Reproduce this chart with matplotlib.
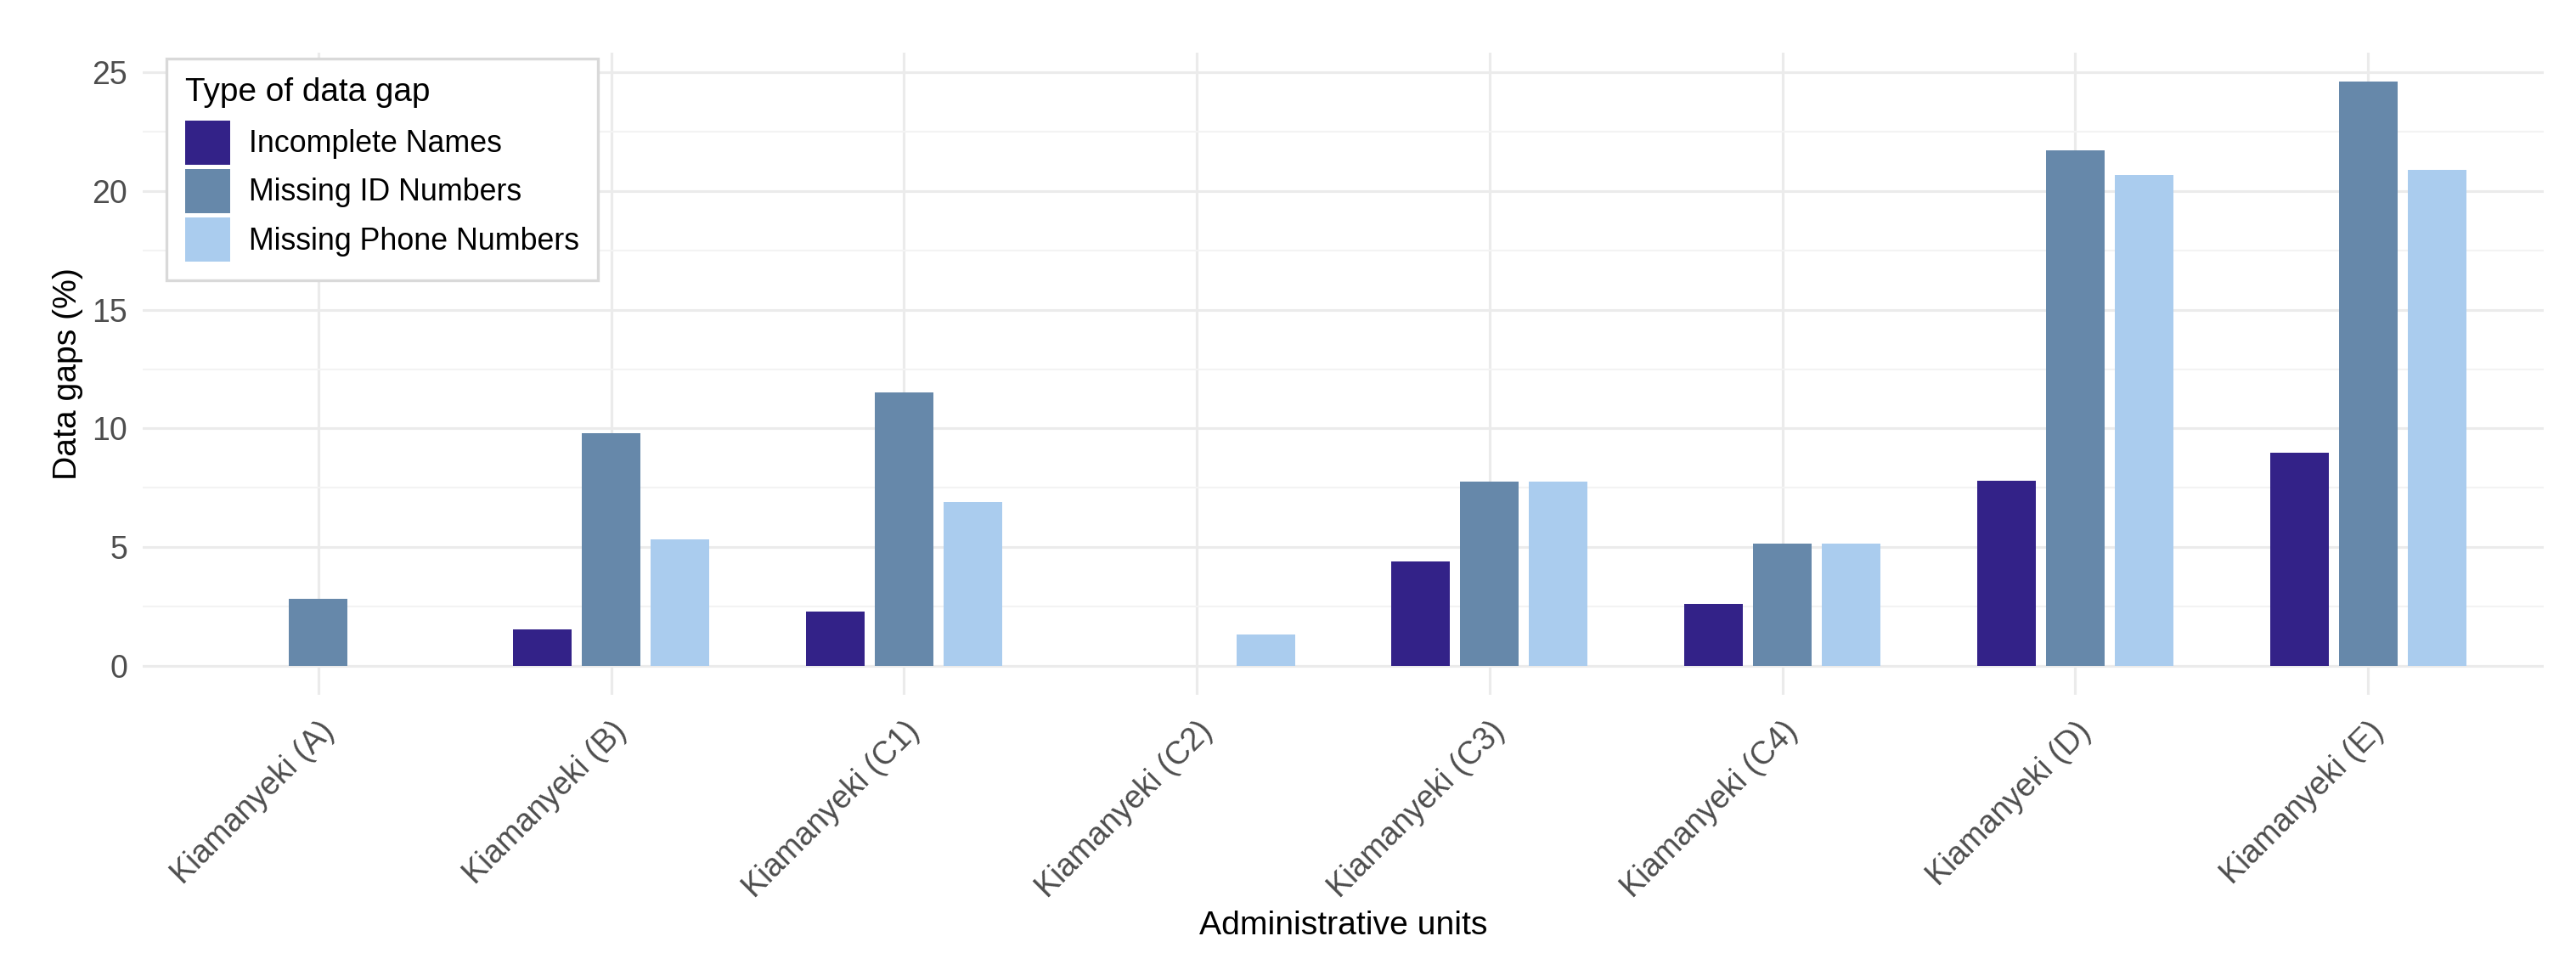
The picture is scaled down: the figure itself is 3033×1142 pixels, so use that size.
# Brechas de datos por unidad administrativa (barras agrupadas)
import numpy as np
import matplotlib
matplotlib.use("Agg")
import matplotlib.pyplot as plt
import matplotlib.transforms as mtransforms

# ----------- Datos -------------
UNIDADES = ["Kiamanyeki (A)", "Kiamanyeki (B)", "Kiamanyeki (C1)", "Kiamanyeki (C2)",
            "Kiamanyeki (C3)", "Kiamanyeki (C4)", "Kiamanyeki (D)", "Kiamanyeki (E)"]
NOMBRES_INCOMPLETOS = [0.0, 1.54, 2.29, 0.0, 4.40, 2.60, 7.80, 8.96]
SIN_ID = [2.82, 9.81, 11.51, 0.0, 7.74, 5.16, 21.72, 24.61]
SIN_TELEFONO = [0.0, 5.32, 6.89, 1.31, 7.74, 5.16, 20.69, 20.89]
SERIES = ["Incomplete Names", "Missing ID Numbers", "Missing Phone Numbers"]

# ----------- Colores -------------
COLORES = ["#332288", "#6688AA", "#AACCEE"]
COLOR_GRID = "#EBEBEB"
COLOR_GRID_MENOR = "#F3F3F3"
COLOR_TEXTO_EJE = "#4D4D4D"

plt.rcParams["font.family"] = ["Liberation Sans", "DejaVu Sans"]

fig = plt.figure(figsize=(3033 / 300, 1142 / 300), dpi=300, facecolor="white")
ax = fig.add_axes([168 / 3033, 1 - 818 / 1142, (2995 - 168) / 3033, (818 - 62) / 1142])

x = np.arange(len(UNIDADES))
ancho = 0.2
paso = 0.235
valores = [NOMBRES_INCOMPLETOS, SIN_ID, SIN_TELEFONO]
for i, (serie, vals) in enumerate(zip(SERIES, valores)):
    ax.bar(x + (i - 1) * paso, vals, width=ancho, color=COLORES[i], label=serie,
           linewidth=0, zorder=3)

# limites estilo ggplot (expansion 5% en y, 0.6 en x discreto)
ymax = max(max(v) for v in valores)
ax.set_ylim(-0.05 * ymax, ymax * 1.05)
ax.set_xlim(-0.6, len(UNIDADES) - 1 + 0.6)

ax.set_yticks(np.arange(0, 26, 5))
ax.set_yticks(np.arange(2.5, 25, 5), minor=True)
ax.set_xticks(x)
ax.set_xticklabels(UNIDADES, rotation=45, ha="right", va="top", rotation_mode="anchor",
                   fontsize=9, color=COLOR_TEXTO_EJE)
desplaza = mtransforms.ScaledTranslation(19 / 300, 0, fig.dpi_scale_trans)
for lab in ax.get_xticklabels():
    lab.set_transform(lab.get_transform() + desplaza)

ax.tick_params(axis="x", length=0, pad=6)
ax.tick_params(axis="y", which="both", length=0, pad=4.3, labelsize=9, labelcolor=COLOR_TEXTO_EJE)

ax.grid(True, which="major", color=COLOR_GRID, linewidth=0.75, zorder=0)
ax.grid(True, which="minor", axis="y", color=COLOR_GRID_MENOR, linewidth=0.5, zorder=0)
ax.set_axisbelow(True)
for s in ax.spines.values():
    s.set_visible(False)

ax.set_xlabel("Administrative units", fontsize=9.4, color="black")
ax.xaxis.set_label_coords(0.5, -0.336)
ax.set_ylabel("Data gaps (%)", fontsize=9.4, color="black")
ax.yaxis.set_label_coords(-0.0248, 0.5)

leg = ax.legend(title="Type of data gap", loc="upper left",
                bbox_to_anchor=((196 - 168) / 2827, (818 - 69) / 756),
                borderaxespad=0, fontsize=8.6, title_fontsize=9.3, alignment="left",
                frameon=True, fancybox=False, edgecolor="#D9D9D9", framealpha=1,
                handlelength=1.48, handleheight=1.86, handletextpad=0.61,
                labelspacing=0.14, borderpad=0.62)
leg.get_frame().set_linewidth(0.8)
leg._legend_box.sep = 3.5  # espacio entre titulo y claves

plt.savefig("out.png", dpi=300, facecolor="white")
plt.close()
